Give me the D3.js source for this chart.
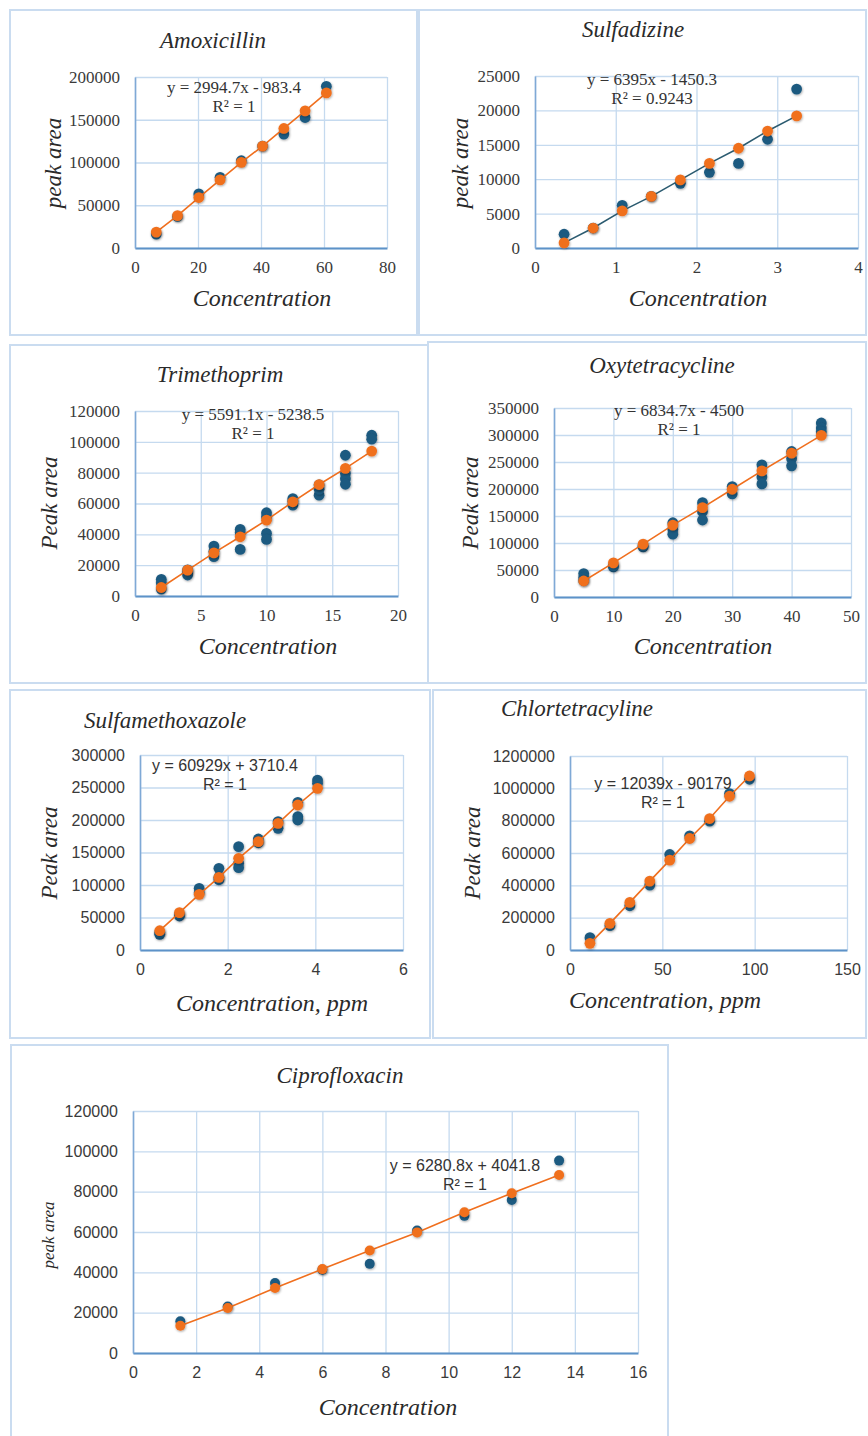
<!DOCTYPE html>
<html>
<head>
<meta charset="utf-8">
<script src="https://cdn.jsdelivr.net/npm/d3@7"></script>
<style>
  body { margin: 0; background: #fff; }
  svg { display: block; }
</style>
</head>
<body>
<svg id="chart" width="868" height="1436"></svg>
<script>
const amoxConc = [6.75, 13.5, 20.25, 27, 33.75, 40.5, 47.25, 54, 60.75];
const amoxMeasured = [16300, 36900, 63300, 82700, 102100, 119200, 133200, 152600, 189100];
const amoxFitted = [18600, 37800, 59000, 79600, 100200, 119200, 139800, 160400, 181400];

const sdzConc = [0.36, 0.72, 1.08, 1.44, 1.8, 2.16, 2.52, 2.88, 3.24];
const sdzMeasured = [2000, 2900, 6200, 7500, 9400, 11000, 12300, 15800, 23100];
const sdzFitted = [750, 2900, 5400, 7500, 9900, 12300, 14500, 17000, 19200];

const tmpConc = [2, 4, 6, 8, 10, 12, 14, 16, 18];
const tmpMeasured = [[10800, 8600, 4500], [13600, 15500, 17000], [32400, 25500, 29000],
  [43200, 41000, 30200], [54000, 51400, 40600, 36700], [63200, 58900, 61500],
  [65400, 69300, 72000], [91300, 79400, 76000, 72500], [104300, 101700]];
const tmpFitted = [5500, 16800, 28000, 38400, 49200, 61100, 72300, 82800, 94000];

const otcConc = [5, 10, 15, 20, 25, 30, 35, 40, 45];
const otcMeasured = [[43400, 36000, 30000], [55800, 58000], [92900, 95000],
  [137500, 125000, 116400], [174700, 158000, 142500], [204400, 190800],
  [244700, 222000, 209400], [269500, 256000, 242900], [322200, 312900, 306000]];
const otcFitted = [29700, 63200, 97900, 133200, 165400, 199500, 233600, 266400, 299300];

const smxConc = [0.45, 0.9, 1.35, 1.8, 2.25, 2.7, 3.15, 3.6, 4.05];
const smxMeasured = [[24100, 27000], [52300, 55000], [94900, 88000], [125600, 112000, 108000],
  [159000, 133300, 126700], [170800, 165000], [197400, 187200],
  [227200, 205100, 200000], [261500, 256400]];
const smxFitted = [29700, 57400, 85600, 111800, 141000, 166700, 194900, 223100, 248700];

const ctcConc = [10.8, 21.6, 32.4, 43.2, 54, 64.8, 75.6, 86.4, 97.2];
const ctcMeasured = [76200, 150300, 273800, 401400, 590800, 706100, 796700, 967500, 1056000];
const ctcFitted = [41200, 164700, 294400, 426100, 555800, 689600, 813100, 951000, 1076600];

const cipConc = [1.5, 3, 4.5, 6, 7.5, 9, 10.5, 12, 13.5];
const cipMeasured = [15700, 23100, 34700, 41300, 44200, 60700, 68000, 75900, 95400];
const cipFitted = [13500, 22300, 32200, 41600, 50800, 59800, 69800, 79200, 88300];

const titles = ["Amoxicillin", "Sulfadizine", "Trimethoprim", "Oxytetracycline",
  "Sulfamethoxazole", "Chlortetracyline", "Ciprofloxacin"];
const equations = ["y = 2994.7x - 983.4", "y = 6395x - 1450.3", "y = 5591.1x - 5238.5",
  "y = 6834.7x - 4500", "y = 60929x + 3710.4", "y = 12039x - 90179", "y = 6280.8x + 4041.8"];
const r2Labels = ["R² = 1", "R² = 0.9243", "R² = 1", "R² = 1", "R² = 1", "R² = 1", "R² = 1"];
const xTitles = ["Concentration", "Concentration", "Concentration", "Concentration",
  "Concentration, ppm", "Concentration, ppm", "Concentration"];
const yTitles = ["peak area", "peak area", "Peak area", "Peak area", "Peak area", "Peak area", "peak area"];
const xDomains = [[0, 80], [0, 4], [0, 20], [0, 50], [0, 6], [0, 150], [0, 16]];
const xTickSteps = [20, 1, 5, 10, 2, 50, 2];
const yDomains = [[0, 200000], [0, 25000], [0, 120000], [0, 350000], [0, 300000], [0, 1200000], [0, 120000]];
const yTickSteps = [50000, 5000, 20000, 50000, 50000, 200000, 20000];

// ---- layout ----
const SERIF = "'Liberation Serif', 'Times New Roman', serif";
const SANS = "'Liberation Sans', Arial, sans-serif";
const BLUE = "#1c5a80", ORANGE = "#f06f1e";

const layout = [
  {box: [10, 10, 417, 335], plot: [135, 77, 387, 248], title: [213, 40], eq: [234, 87], xt: [262, 298], yt: [53, 163], sans: false, yFont: 23},
  {box: [419, 10, 866, 335], plot: [535, 76, 858, 248], title: [633, 29], eq: [652, 79], xt: [698, 298], yt: [460, 163], sans: false, yFont: 23, line: "#2b5b70"},
  {box: [10, 345, 428, 683], plot: [135, 411, 398, 596], title: [220, 374], eq: [253, 414], xt: [268, 646], yt: [49, 503], sans: false, yFont: 23},
  {box: [428, 342, 866, 683], plot: [554, 408, 851, 597], title: [662, 365], eq: [679, 410], xt: [703, 646], yt: [470, 503], sans: false, yFont: 23},
  {box: [10, 690, 430, 1038], plot: [140, 755, 403, 950], title: [165, 720], eq: [225, 765], xt: [272, 1003], yt: [49, 853], sans: true, yFont: 23},
  {box: [433, 690, 866, 1038], plot: [570, 756, 847, 950], title: [577, 708], eq: [663, 783], xt: [665, 1000], yt: [472, 853], sans: true, yFont: 23},
  {box: [11, 1045, 668, 1445], plot: [133, 1111, 638, 1353], title: [340, 1075], eq: [465, 1165], xt: [388, 1407], yt: [48, 1235], sans: true, yFont: 17}
];

const series = [
  [amoxConc, amoxMeasured, amoxFitted],
  [sdzConc, sdzMeasured, sdzFitted],
  [tmpConc, tmpMeasured, tmpFitted],
  [otcConc, otcMeasured, otcFitted],
  [smxConc, smxMeasured, smxFitted],
  [ctcConc, ctcMeasured, ctcFitted],
  [cipConc, cipMeasured, cipFitted]
];

const svg = d3.select("#chart");

const defs = svg.append("defs");
defs.append("filter").attr("id", "shadow")
  .attr("x", "-60%").attr("y", "-60%").attr("width", "220%").attr("height", "220%")
  .append("feDropShadow")
  .attr("dx", 0.6).attr("dy", 1).attr("stdDeviation", 1.1)
  .attr("flood-color", "#000").attr("flood-opacity", 0.35);

function range(step, max) {
  const out = [];
  for (let v = 0; v <= max + 1e-9; v += step) out.push(+v.toFixed(6));
  return out;
}

layout.forEach((L, i) => {
  const [conc, measured, fitted] = series[i];
  const font = L.sans ? SANS : SERIF;
  const tickSize = L.sans ? 16 : 17;
  const [left, top, right, bottom] = L.plot;
  const g = svg.append("g");

  // panel frame
  g.append("rect")
    .attr("x", L.box[0]).attr("y", L.box[1])
    .attr("width", L.box[2] - L.box[0]).attr("height", L.box[3] - L.box[1])
    .attr("fill", "#fff").attr("stroke", "#cadcf0").attr("stroke-width", 2);

  const x = d3.scaleLinear().domain(xDomains[i]).range([left, right]);
  const y = d3.scaleLinear().domain(yDomains[i]).range([bottom, top]);
  const xTicks = range(xTickSteps[i], xDomains[i][1]);
  const yTicks = range(yTickSteps[i], yDomains[i][1]);

  // gridlines
  g.append("g").attr("transform", `translate(0,${bottom})`)
    .call(d3.axisBottom(x).tickValues(xTicks).tickSize(-(bottom - top)).tickFormat(""))
    .call(a => a.select(".domain").remove())
    .selectAll("line").attr("stroke", "#c5daef").attr("stroke-width", 1.3);
  g.append("g").attr("transform", `translate(${left},0)`)
    .call(d3.axisLeft(y).tickValues(yTicks).tickSize(-(right - left)).tickFormat(""))
    .call(a => a.select(".domain").remove())
    .selectAll("line").attr("stroke", "#c5daef").attr("stroke-width", 1.3);

  // axes with labels
  const xAxis = g.append("g").attr("transform", `translate(0,${bottom})`)
    .call(d3.axisBottom(x).tickValues(xTicks).tickSize(0).tickPadding(L.sans ? 14 : 13).tickFormat(d3.format("d")));
  xAxis.select(".domain").attr("stroke", "#5d92c8").attr("stroke-width", 2.2);
  xAxis.selectAll("text").attr("font-family", font).attr("font-size", tickSize).attr("fill", "#3a3a3a");

  const yAxis = g.append("g").attr("transform", `translate(${left},0)`)
    .call(d3.axisLeft(y).tickValues(yTicks).tickSize(0).tickPadding(15).tickFormat(d3.format("d")));
  yAxis.select(".domain").attr("stroke", "#7fa9d6").attr("stroke-width", 1.6);
  yAxis.selectAll("text").attr("font-family", font).attr("font-size", tickSize).attr("fill", "#3a3a3a");

  // points
  const measuredPts = measured.flatMap((v, k) => [].concat(v).map(val => ({x: conc[k], y: val})));
  const fittedPts = fitted.map((val, k) => ({x: conc[k], y: val}));

  g.append("g").selectAll("circle").data(measuredPts).join("circle")
    .attr("cx", d => x(d.x)).attr("cy", d => y(d.y)).attr("r", i === 6 ? 5 : 5.4)
    .attr("fill", BLUE).attr("filter", "url(#shadow)");

  g.append("path").datum(fittedPts)
    .attr("d", d3.line().x(d => x(d.x)).y(d => y(d.y)))
    .attr("fill", "none").attr("stroke", L.line || ORANGE).attr("stroke-width", 1.6);

  g.append("g").selectAll("circle").data(fittedPts).join("circle")
    .attr("cx", d => x(d.x)).attr("cy", d => y(d.y)).attr("r", i === 6 ? 5 : 5.4)
    .attr("fill", ORANGE).attr("filter", "url(#shadow)");

  // equation + R²
  g.append("text").attr("x", L.eq[0]).attr("y", L.eq[1])
    .attr("text-anchor", "middle").attr("dominant-baseline", "central")
    .attr("font-family", font).attr("font-size", L.sans ? 16 : 17).attr("fill", "#333")
    .text(equations[i]);
  g.append("text").attr("x", L.eq[0]).attr("y", L.eq[1] + 19)
    .attr("text-anchor", "middle").attr("dominant-baseline", "central")
    .attr("font-family", font).attr("font-size", L.sans ? 16 : 17).attr("fill", "#333")
    .text(r2Labels[i]);

  // titles
  g.append("text").attr("x", L.title[0]).attr("y", L.title[1])
    .attr("text-anchor", "middle").attr("dominant-baseline", "central")
    .attr("font-family", SERIF).attr("font-style", "italic").attr("font-size", 23).attr("fill", "#2a2a2a")
    .text(titles[i]);
  g.append("text").attr("x", L.xt[0]).attr("y", L.xt[1])
    .attr("text-anchor", "middle").attr("dominant-baseline", "central")
    .attr("font-family", SERIF).attr("font-style", "italic").attr("font-size", 24).attr("fill", "#2a2a2a")
    .text(xTitles[i]);
  g.append("text")
    .attr("transform", `translate(${L.yt[0]},${L.yt[1]}) rotate(-90)`)
    .attr("text-anchor", "middle").attr("dominant-baseline", "central")
    .attr("font-family", SERIF).attr("font-style", "italic").attr("font-size", L.yFont).attr("fill", "#2a2a2a")
    .text(yTitles[i]);
});
</script>
</body>
</html>
